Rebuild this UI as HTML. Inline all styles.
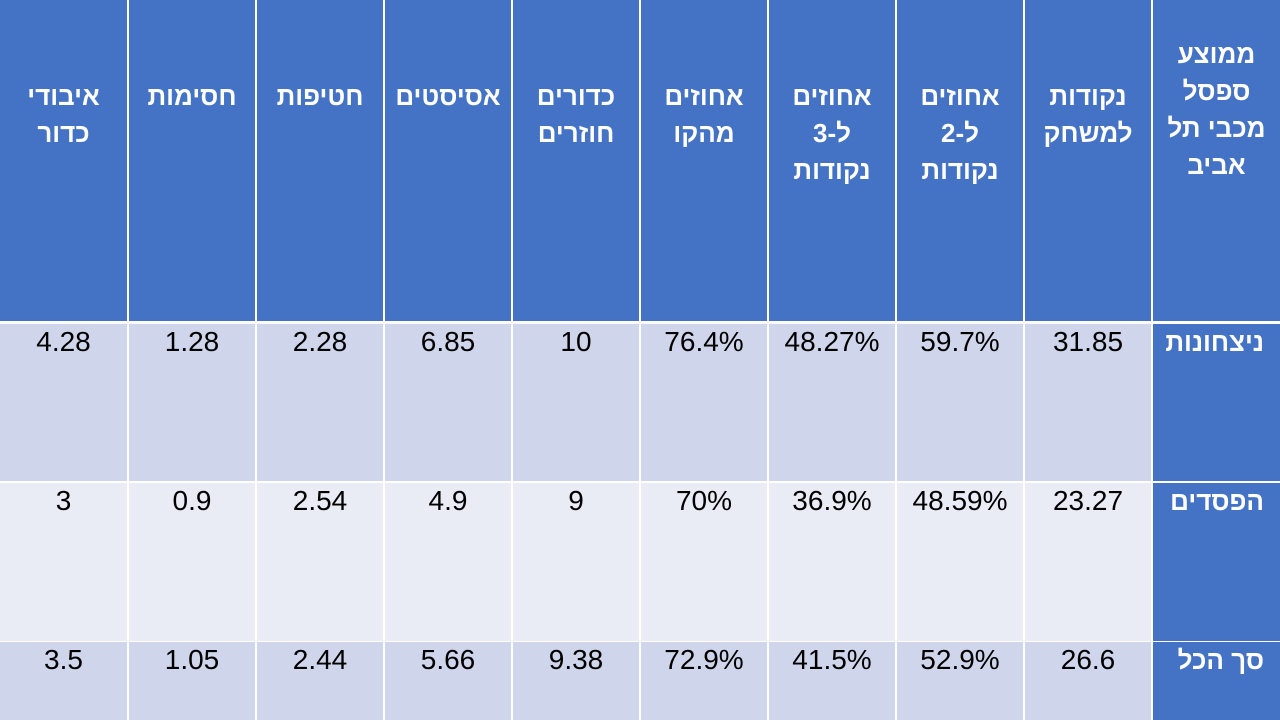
<!DOCTYPE html>
<html><head><meta charset="utf-8"><style>
body{margin:0;width:1280px;height:720px;background:#fff;position:relative;overflow:hidden;font-family:"Liberation Sans",Arial,sans-serif}
.c{position:absolute;box-sizing:border-box}
.h{background:#4472C4;color:#fff;font-weight:bold;font-size:26px;line-height:37px;text-align:center;direction:rtl;padding-top:78px}
.d{font-size:28px;text-align:center;color:#000;padding-top:2px;line-height:32px}
.r1{background:#CFD5EA}.r2{background:#E9EBF5}
.lab{background:#4472C4;color:#fff;font-weight:bold;font-size:26px;direction:rtl;text-align:right;padding-right:16px;padding-top:2px;line-height:32px}
</style></head><body>
<div id="t"></div>
<script>
var heads=["איבודי<br>כדור","חסימות","חטיפות","אסיסטים","כדורים<br>חוזרים","אחוזים<br>מהקו","אחוזים<br>ל-3<br>נקודות","אחוזים<br>ל-2<br>נקודות","נקודות<br>למשחק"];
var rows=[["4.28","1.28","2.28","6.85","10","76.4%","48.27%","59.7%","31.85","ניצחונות"],
["3","0.9","2.54","4.9","9","70%","36.9%","48.59%","23.27","הפסדים"],
["3.5","1.05","2.44","5.66","9.38","72.9%","41.5%","52.9%","26.6","סך הכל"]];
var ys=[[324,157],[483,158],[642,78]];
var h="";
for(var i=0;i<10;i++){var x=i*128+(i?1:0),w=127-(i?1:0)+ (i==9?1:0);
 if(i<9)h+='<div class="c h" style="left:'+x+'px;top:0;width:'+w+'px;height:321px">'+heads[i]+'</div>';
 else h+='<div class="c h" style="left:'+x+'px;top:0;width:'+w+'px;height:321px;padding-top:36px">ממוצע<br>ספסל<br>מכבי תל<br>אביב</div>';
 for(var r=0;r<3;r++){var y=ys[r][0],hh=ys[r][1];
  if(i<9)h+='<div class="c d '+(r==1?'r2':'r1')+'" style="left:'+x+'px;top:'+y+'px;width:'+w+'px;height:'+hh+'px">'+rows[r][i]+'</div>';
  else h+='<div class="c lab" style="left:'+x+'px;top:'+y+'px;width:'+w+'px;height:'+hh+'px">'+rows[r][i]+'</div>';
 }}
document.getElementById("t").innerHTML=h;
</script>
</body></html>
